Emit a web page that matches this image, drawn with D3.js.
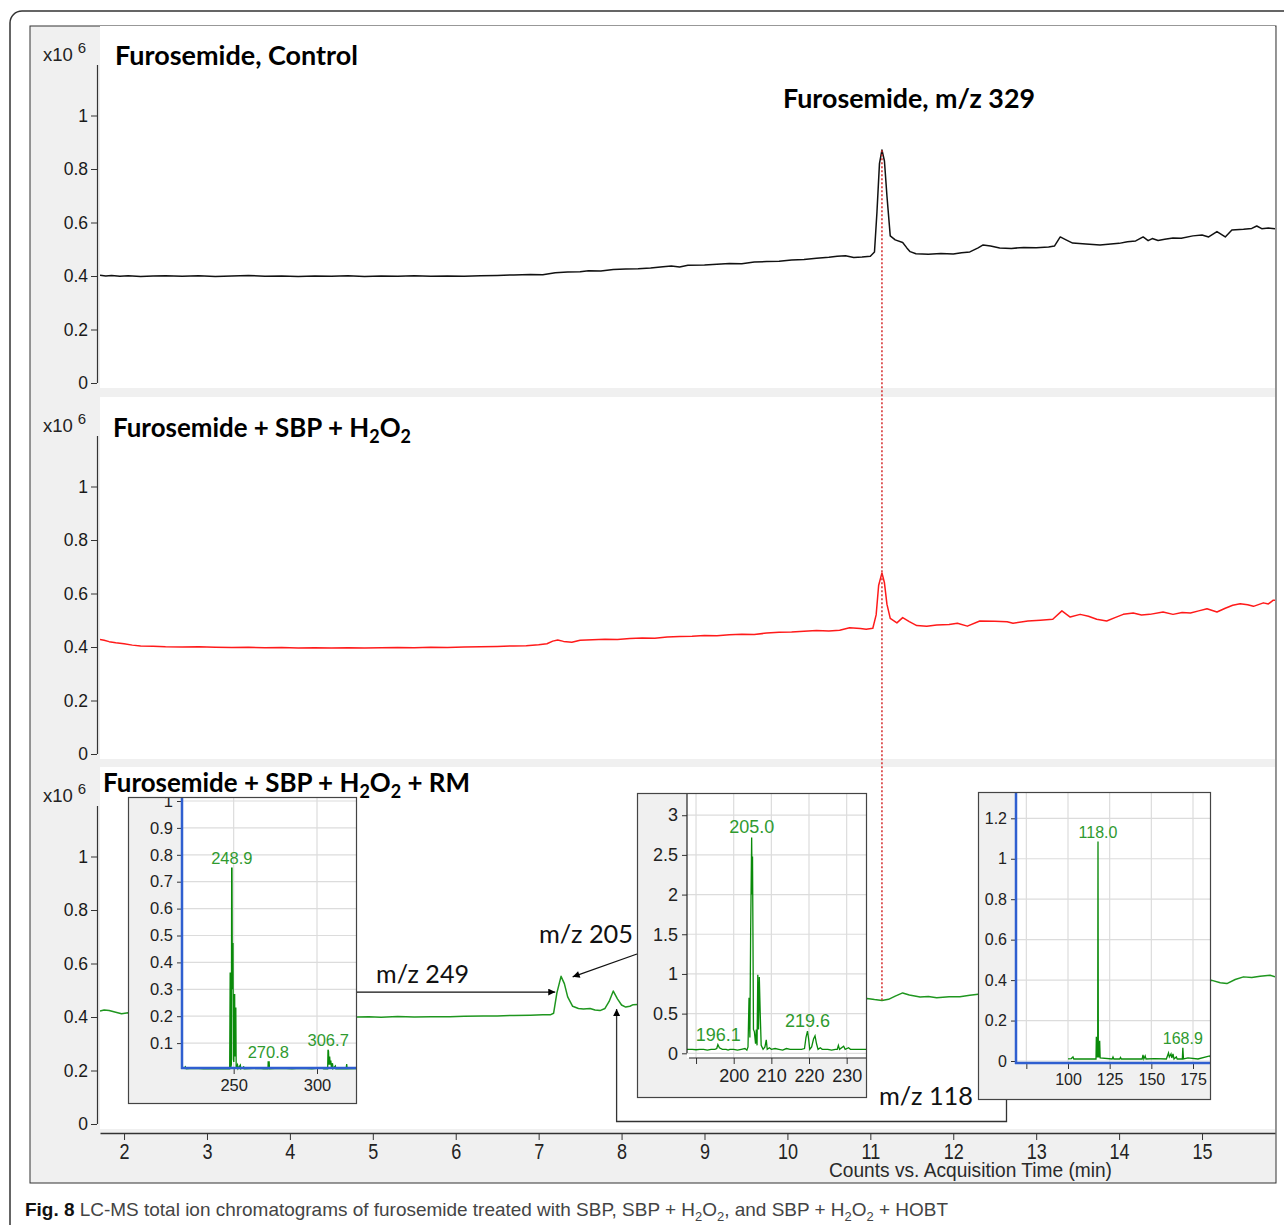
<!DOCTYPE html>
<html>
<head>
<meta charset="utf-8">
<script src="https://cdnjs.cloudflare.com/ajax/libs/d3/7.8.5/d3.min.js"></script>
<style>
  body { margin: 0; background: #fff; }
  svg text { font-family: "Liberation Sans", Arial, sans-serif; }
  .title { font-family: Lato, "Open Sans", sans-serif; font-weight: bold; fill: #000; }
  .note { font-family: Lato, "Open Sans", sans-serif; fill: #111; }
</style>
</head>
<body>
<svg width="1284" height="1225"></svg>
<script>

// ---- data ----
var timeTicks = [2, 3, 4, 5, 6, 7, 8, 9, 10, 11, 12, 13, 14, 15];
var countTicks = [0, 0.2, 0.4, 0.6, 0.8, 1];

// [time (min), counts x10^6]
var controlTrace = [[1.71,0.403],[1.78,0.400],[1.85,0.402],[1.95,0.399],[2.05,0.401],[2.2,0.398],[2.35,0.400],[2.5,0.401],[2.7,0.399],[2.9,0.401],[3.1,0.398],[3.3,0.400],[3.5,0.402],[3.7,0.399],[3.9,0.400],[4.1,0.398],[4.3,0.400],[4.5,0.399],[4.7,0.401],[4.9,0.398],[5.1,0.400],[5.3,0.399],[5.5,0.401],[5.7,0.399],[5.9,0.400],[6.1,0.399],[6.3,0.401],[6.5,0.402],[6.7,0.404],[6.9,0.406],[7.05,0.405],[7.2,0.412],[7.35,0.415],[7.5,0.416],[7.6,0.420],[7.75,0.419],[7.9,0.424],[8.05,0.426],[8.2,0.427],[8.35,0.430],[8.5,0.435],[8.6,0.437],[8.7,0.434],[8.8,0.440],[9.0,0.441],[9.15,0.444],[9.3,0.447],[9.45,0.446],[9.6,0.452],[9.75,0.454],[9.9,0.455],[10.05,0.460],[10.2,0.462],[10.35,0.466],[10.5,0.470],[10.6,0.474],[10.7,0.476],[10.8,0.469],[10.9,0.471],[11.0,0.474],[11.05,0.49],[11.08,0.64],[11.11,0.82],[11.14,0.871],[11.17,0.83],[11.2,0.70],[11.24,0.55],[11.3,0.535],[11.39,0.525],[11.44,0.505],[11.48,0.491],[11.55,0.483],[11.7,0.481],[11.85,0.484],[12.0,0.482],[12.1,0.487],[12.2,0.490],[12.3,0.505],[12.36,0.516],[12.45,0.512],[12.56,0.505],[12.7,0.503],[12.85,0.507],[13.0,0.506],[13.15,0.508],[13.22,0.512],[13.29,0.546],[13.36,0.535],[13.44,0.523],[13.6,0.520],[13.77,0.516],[13.9,0.520],[14.0,0.522],[14.1,0.528],[14.2,0.531],[14.29,0.546],[14.35,0.532],[14.4,0.540],[14.47,0.533],[14.55,0.537],[14.65,0.542],[14.75,0.541],[14.89,0.550],[15.0,0.553],[15.08,0.546],[15.18,0.566],[15.28,0.546],[15.36,0.572],[15.5,0.575],[15.6,0.578],[15.66,0.587],[15.72,0.577],[15.8,0.579],[15.88,0.577]];

var sbpTrace = [[1.71,0.428],[1.76,0.425],[1.82,0.420],[1.9,0.416],[2.0,0.412],[2.1,0.407],[2.2,0.404],[2.35,0.403],[2.5,0.401],[2.7,0.400],[2.9,0.401],[3.1,0.399],[3.3,0.398],[3.5,0.399],[3.7,0.397],[3.9,0.398],[4.1,0.396],[4.3,0.397],[4.5,0.396],[4.7,0.397],[4.9,0.396],[5.1,0.397],[5.3,0.398],[5.5,0.397],[5.7,0.399],[5.9,0.398],[6.1,0.400],[6.3,0.401],[6.5,0.402],[6.7,0.404],[6.85,0.405],[7.0,0.408],[7.1,0.412],[7.17,0.422],[7.23,0.426],[7.3,0.421],[7.4,0.418],[7.5,0.425],[7.65,0.427],[7.8,0.429],[7.95,0.428],[8.1,0.432],[8.25,0.434],[8.4,0.433],[8.55,0.437],[8.7,0.439],[8.85,0.440],[9.0,0.443],[9.15,0.442],[9.3,0.446],[9.45,0.448],[9.6,0.447],[9.75,0.452],[9.9,0.455],[10.05,0.456],[10.2,0.459],[10.35,0.462],[10.5,0.460],[10.63,0.463],[10.75,0.472],[10.88,0.469],[10.95,0.466],[11.03,0.470],[11.07,0.52],[11.1,0.63],[11.14,0.677],[11.17,0.64],[11.2,0.56],[11.24,0.507],[11.32,0.490],[11.39,0.510],[11.47,0.495],[11.56,0.480],[11.68,0.478],[11.8,0.482],[11.95,0.484],[12.05,0.489],[12.17,0.478],[12.32,0.497],[12.5,0.496],[12.65,0.494],[12.72,0.489],[12.9,0.497],[13.05,0.500],[13.2,0.504],[13.31,0.535],[13.41,0.512],[13.53,0.522],[13.63,0.515],[13.73,0.504],[13.85,0.497],[13.95,0.510],[14.05,0.522],[14.17,0.527],[14.27,0.520],[14.37,0.522],[14.53,0.531],[14.65,0.522],[14.76,0.529],[14.86,0.527],[14.96,0.535],[15.06,0.543],[15.18,0.531],[15.28,0.545],[15.37,0.556],[15.46,0.562],[15.55,0.558],[15.62,0.552],[15.74,0.565],[15.8,0.561],[15.86,0.575],[15.88,0.575]];

var rmTrace = [[1.71,0.422],[1.76,0.426],[1.82,0.424],[1.9,0.418],[1.97,0.412],[2.05,0.416],[2.2,0.414],[2.6,0.410],[3.2,0.406],[3.8,0.404],[4.4,0.402],[4.81,0.400],[4.95,0.401],[5.1,0.399],[5.3,0.402],[5.5,0.400],[5.7,0.401],[5.93,0.401],[6.1,0.403],[6.33,0.404],[6.5,0.404],[6.7,0.406],[6.9,0.407],[7.05,0.408],[7.14,0.408],[7.18,0.414],[7.22,0.49],[7.27,0.552],[7.31,0.525],[7.35,0.475],[7.41,0.440],[7.48,0.432],[7.54,0.430],[7.62,0.432],[7.68,0.426],[7.74,0.424],[7.8,0.432],[7.85,0.458],[7.9,0.497],[7.95,0.468],[8.0,0.445],[8.05,0.437],[8.1,0.440],[8.14,0.446],[8.5,0.452],[9.0,0.456],[9.5,0.458],[10.0,0.462],[10.5,0.466],[10.96,0.469],[11.05,0.465],[11.14,0.462],[11.22,0.466],[11.3,0.478],[11.39,0.490],[11.47,0.482],[11.6,0.475],[11.7,0.477],[11.8,0.472],[11.95,0.476],[12.08,0.476],[12.2,0.481],[12.3,0.485],[12.8,0.495],[13.5,0.505],[14.2,0.515],[14.8,0.525],[15.12,0.537],[15.22,0.528],[15.3,0.525],[15.4,0.540],[15.5,0.550],[15.6,0.548],[15.7,0.552],[15.82,0.556],[15.88,0.550]];

// mass spectra insets: [m/z, counts x10^4]
var spec249 = [[220,0.004],[221,0.012],[221.5,0.004],[226,0.006],[232,0.004],[237,0.005],[243,0.004],[247.6,0.004],[247.9,0.36],[248.1,0.36],[248.3,0.01],[248.6,0.02],[248.8,0.75],[249.0,0.75],[249.2,0.30],[249.4,0.47],[249.6,0.47],[249.8,0.04],[250.1,0.03],[250.4,0.28],[250.6,0.28],[250.8,0.05],[251.1,0.23],[251.3,0.23],[251.5,0.01],[252.3,0.02],[252.6,0.005],[254,0.018],[254.3,0.004],[256,0.012],[256.3,0.004],[260,0.005],[265,0.006],[268,0.004],[270.6,0.004],[270.7,0.03],[271.3,0.03],[271.5,0.004],[278,0.006],[285,0.004],[290,0.006],[297,0.004],[303,0.008],[304,0.004],[306.4,0.004],[306.6,0.075],[306.9,0.07],[307.2,0.02],[307.6,0.05],[307.9,0.02],[308.3,0.035],[308.6,0.01],[309.3,0.025],[309.6,0.005],[311,0.015],[311.3,0.004],[317.5,0.004],[317.8,0.022],[318.1,0.004],[324,0.005]];
var spec205 = [[187.6,0.05],[189,0.05],[190,0.045],[191,0.05],[192,0.05],[193,0.04],[194,0.05],[195,0.05],[195.5,0.06],[195.8,0.11],[196.2,0.07],[197,0.05],[198,0.05],[198.5,0.04],[199,0.05],[200,0.05],[201,0.04],[202,0.05],[203,0.06],[203.5,0.04],[203.8,0.08],[204.07,0.70],[204.3,0.20],[204.5,1.53],[204.77,2.72],[204.9,2.0],[205.0,2.48],[205.25,0.30],[205.5,0.27],[205.8,0.12],[206.0,0.30],[206.2,0.10],[206.4,0.99],[206.6,0.30],[206.8,0.96],[207.06,0.48],[207.3,0.10],[207.8,0.05],[208.3,0.08],[208.65,0.17],[208.9,0.05],[209.5,0.07],[210,0.05],[211,0.06],[212,0.05],[213,0.04],[214,0.06],[215,0.05],[216,0.05],[217,0.05],[218,0.05],[218.8,0.06],[219.2,0.20],[219.6,0.28],[219.9,0.18],[220.2,0.05],[220.7,0.08],[221.2,0.18],[221.6,0.22],[222,0.12],[222.4,0.05],[223,0.07],[223.5,0.05],[224,0.05],[225,0.05],[226,0.04],[227,0.05],[227.5,0.05],[227.8,0.10],[228.1,0.05],[229.2,0.09],[229.6,0.05],[230.5,0.07],[231,0.05],[232,0.05],[233,0.05],[235.4,0.05]];
var spec118 = [[100,0.01],[102,0.012],[103,0.02],[103.5,0.01],[110,0.01],[116.8,0.01],[117.0,0.12],[117.3,0.02],[117.8,0.02],[118.0,1.085],[118.2,0.02],[118.8,0.02],[119.0,0.10],[119.3,0.015],[126.5,0.01],[127,0.02],[127.5,0.01],[131,0.01],[131.5,0.018],[132,0.01],[140,0.01],[144.5,0.01],[145,0.03],[145.5,0.01],[146.3,0.025],[146.8,0.01],[152,0.012],[159,0.01],[160.3,0.04],[160.8,0.02],[161.8,0.035],[162.3,0.015],[163,0.035],[163.6,0.01],[165,0.02],[165.5,0.01],[168.6,0.01],[168.9,0.065],[169.3,0.01],[172,0.015],[178,0.01],[185,0.025],[185.8,0.015]];

// peak labels: [m/z, height, text]
var peaks249 = [[248.9, 0.75, "248.9"], [270.8, 0.03, "270.8"], [306.7, 0.075, "306.7"]];
var peaks205 = [[204.8, 2.72, "205.0"], [195.9, 0.11, "196.1"], [219.6, 0.28, "219.6"]];
var peaks118 = [[118.0, 1.085, "118.0"], [168.9, 0.065, "168.9"]];

var ticks249X = [250, 300];
var ticks249Y = [0.1, 0.2, 0.3, 0.4, 0.5, 0.6, 0.7, 0.8, 0.9, 1];
var ticks205X = [190, 200, 210, 220, 230];
var ticks205Y = [0, 0.5, 1, 1.5, 2, 2.5, 3];
var ticks118X = [75, 100, 125, 150, 175];
var ticks118Y = [0, 0.2, 0.4, 0.6, 0.8, 1, 1.2];

var titleControl = [["Furosemide, Control", 0]];
var titleSbp = [["Furosemide + SBP + H", 0], ["2", 1], ["O", 0], ["2", 1]];
var titleRm = [["Furosemide + SBP + H", 0], ["2", 1], ["O", 0], ["2", 1], [" + RM", 0]];
var captionParts = [["Fig. 8", 2], [" LC-MS total ion chromatograms of furosemide treated with SBP, SBP + H", 0], ["2", 1], ["O", 0], ["2", 1], [", and SBP + H", 0], ["2", 1], ["O", 0], ["2", 1], [" + HOBT", 0]];

var peakTime = 11.14;

// ---- drawing ----
var svg = d3.select("svg"),
    width = +svg.attr("width"),
    height = +svg.attr("height");

var defs = svg.append("defs");
defs.append("marker")
    .attr("id", "arrow")
    .attr("viewBox", "0 0 10 10")
    .attr("refX", 10).attr("refY", 5)
    .attr("markerWidth", 9).attr("markerHeight", 7)
    .attr("markerUnits", "userSpaceOnUse")
    .attr("orient", "auto")
  .append("path")
    .attr("d", "M0,0L10,5L0,10z")
    .attr("fill", "#000");

// frames
svg.append("rect")
    .attr("x", 10).attr("y", 11).attr("width", 1300).attr("height", 1260).attr("rx", 12)
    .attr("fill", "#fff").attr("stroke", "#333").attr("stroke-width", 1.5);
svg.append("rect")
    .attr("x", 30).attr("y", 26).attr("width", 1246).attr("height", 1157)
    .attr("fill", "#f0f0f0").attr("stroke", "#333").attr("stroke-width", 1);

var plotLeft = 100, plotRight = 1275;
var x = d3.scaleLinear().domain([1.71, 15.88]).range([plotLeft, plotRight]);

// writes text pieces with subscripts into a text element
function writeParts(textSel, parts, subSize) {
  var wasSub = false;
  parts.forEach(function (p) {
    var t = textSel.append("tspan").text(p[0]);
    if (p[1] === 1) {
      t.attr("dy", subSize * 0.35).style("font-size", subSize + "px");
    } else if (p[1] === 2) {
      t.style("font-weight", "bold").attr("fill", "#111");
    }
    if (p[1] === 0 && wasSub) {
      t.attr("dy", -subSize * 0.35);
    }
    wasSub = (p[1] === 1);
  });
}

var panels = [
  {zero: 383, data: controlTrace, color: "#111", title: titleControl, tx: 115, tdy: -318, tw: 243},
  {zero: 754, data: sbpTrace, color: "#ff1a1a", title: titleSbp, tx: 113, tdy: -317, tw: 298},
  {zero: 1124, data: rmTrace, color: "#1f961f", title: titleRm, tx: 103, tdy: -332, tw: 367}
];

var yScales = [];

panels.forEach(function (p, i) {
  var y = d3.scaleLinear().domain([0, 1]).range([p.zero, p.zero - 267.5]);
  yScales.push(y);
  var g = svg.append("g").attr("class", "panel");

  g.append("rect")
      .attr("x", plotLeft).attr("y", p.zero - 357)
      .attr("width", plotRight - plotLeft).attr("height", 362)
      .attr("fill", "#fff");

  defs.append("clipPath").attr("id", "clip" + i)
    .append("rect")
      .attr("x", plotLeft).attr("y", p.zero - 357)
      .attr("width", plotRight - plotLeft).attr("height", 362);

  // y axis
  var ax = g.append("g")
      .attr("transform", "translate(97,0)")
      .call(d3.axisLeft(y).tickValues(countTicks).tickSize(6).tickPadding(3).tickFormat(String));
  ax.select(".domain").remove();
  ax.selectAll("line").attr("stroke", "#333");
  ax.selectAll("text").style("font-size", "17.5px").attr("fill", "#1a1a1a")
      .style("font-family", "'Liberation Sans', Arial, sans-serif");
  g.append("line")
      .attr("x1", 97.5).attr("x2", 97.5)
      .attr("y1", p.zero).attr("y2", p.zero - 318)
      .attr("stroke", "#333").attr("stroke-width", 1.2);

  // x10^6 label
  var mult = g.append("text")
      .attr("x", 43).attr("y", p.zero - 322)
      .style("font-size", "18.5px").attr("fill", "#222")
      .text("x10");
  mult.append("tspan").attr("dx", 5).attr("dy", -8).style("font-size", "15px").text("6");

  // trace
  g.append("path")
      .datum(p.data)
      .attr("clip-path", "url(#clip" + i + ")")
      .attr("fill", "none")
      .attr("stroke", p.color)
      .attr("stroke-width", 1.5)
      .attr("stroke-linejoin", "round")
      .attr("d", d3.line().x(function (d) { return x(d[0]); }).y(function (d) { return y(d[1]); }));

  // title
  var title = g.append("text")
      .attr("class", "title")
      .attr("x", p.tx).attr("y", p.zero + p.tdy)
      .style("font-size", "26px")
      .attr("textLength", p.tw)
      .attr("lengthAdjust", "spacingAndGlyphs");
  writeParts(title, p.title, 18);
});

// peak name in the top panel
svg.append("text")
    .attr("class", "title")
    .attr("x", 783).attr("y", 108)
    .style("font-size", "26px")
    .attr("textLength", 252).attr("lengthAdjust", "spacingAndGlyphs")
    .text("Furosemide, m/z 329");

// red dotted marker through the three panels
svg.append("line")
    .attr("x1", x(peakTime)).attr("x2", x(peakTime))
    .attr("y1", yScales[0](0.87)).attr("y2", yScales[2](0.455))
    .attr("stroke", "#d42a2a").attr("stroke-width", 1.5)
    .attr("stroke-dasharray", "2,2");

// ---- mass spectrum insets ----
var insets = [
  {spec: spec249, peaks: peaks249, box: [128, 797, 357, 1104], xr: [182, 357], xd: [219, 324],
   yd: [0, 1], yr: [1070, 801], xAxisY: 1068, xTicks: ticks249X, xLabels: ticks249X, yTicks: ticks249Y,
   axisColor: "#2f5fd0", axisW: 2.5, fs: 16.5, lfs: 16.5},
  {spec: spec205, peaks: peaks205, box: [637, 793, 867, 1098], xr: [687, 867], xd: [187.6, 235.4],
   yd: [0, 3.28], yr: [1053.3, 793], xAxisY: 1058, xTicks: ticks205X, xLabels: [200, 210, 220, 230], yTicks: ticks205Y,
   axisColor: "#222", axisW: 1.2, fs: 18, lfs: 18},
  {spec: spec118, peaks: peaks118, box: [978, 792, 1211, 1100], xr: [1016, 1211], xd: [68.8, 185.8],
   yd: [0, 1.2], yr: [1061, 818.3], xAxisY: 1063, xTicks: ticks118X, xLabels: [100, 125, 150, 175], yTicks: ticks118Y,
   axisColor: "#2f5fd0", axisW: 2.5, fs: 16, lfs: 16}
];

insets.forEach(function (s, i) {
  var b = s.box;
  var sx = d3.scaleLinear().domain(s.xd).range(s.xr);
  var sy = d3.scaleLinear().domain(s.yd).range(s.yr);

  defs.append("clipPath").attr("id", "iclip" + i)
    .append("rect").attr("x", b[0]).attr("y", b[1]).attr("width", b[2] - b[0]).attr("height", b[3] - b[1]);

  var g = svg.append("g").attr("clip-path", "url(#iclip" + i + ")");

  g.append("rect")
      .attr("x", b[0]).attr("y", b[1]).attr("width", b[2] - b[0]).attr("height", b[3] - b[1])
      .attr("fill", "#f0f0f0");
  g.append("rect")
      .attr("x", s.xr[0]).attr("y", b[1]).attr("width", s.xr[1] - s.xr[0]).attr("height", s.xAxisY - b[1])
      .attr("fill", "#fff");

  // grid
  g.selectAll(".vgrid").data(s.xTicks).enter().append("line")
      .attr("x1", sx).attr("x2", sx)
      .attr("y1", b[1]).attr("y2", s.xAxisY)
      .attr("stroke", "#dcdcdc").attr("stroke-width", 1.2);
  g.selectAll(".hgrid").data(s.yTicks).enter().append("line")
      .attr("x1", s.xr[0]).attr("x2", s.xr[1])
      .attr("y1", sy).attr("y2", sy)
      .attr("stroke", "#dcdcdc").attr("stroke-width", 1.2);

  // spectrum
  g.append("path")
      .datum(s.spec)
      .attr("fill", "none")
      .attr("stroke", "#0a8a0a")
      .attr("stroke-width", 1.3)
      .attr("d", d3.line().x(function (d) { return sx(d[0]); }).y(function (d) { return sy(d[1]); }));

  // axes
  var yax = g.append("g")
      .attr("transform", "translate(" + s.xr[0] + ",0)")
      .call(d3.axisLeft(sy).tickValues(s.yTicks).tickSize(5).tickPadding(4).tickFormat(String));
  yax.select(".domain").remove();
  yax.selectAll("line").attr("stroke", "#333");
  yax.selectAll("text").style("font-size", s.fs + "px").attr("fill", "#222")
      .style("font-family", "'Liberation Sans', Arial, sans-serif");

  var xax = g.append("g")
      .attr("transform", "translate(0," + s.xAxisY + ")")
      .call(d3.axisBottom(sx).tickValues(s.xTicks).tickSize(6).tickPadding(5)
        .tickFormat(function (d) { return s.xLabels.indexOf(d) >= 0 ? String(d) : ""; }));
  xax.select(".domain").remove();
  xax.selectAll("line").attr("stroke", "#333");
  xax.selectAll("text").style("font-size", s.fs + "px").attr("fill", "#222")
      .style("font-family", "'Liberation Sans', Arial, sans-serif");

  g.append("line")
      .attr("x1", s.xr[0]).attr("x2", s.xr[0])
      .attr("y1", b[1]).attr("y2", s.xAxisY + (s.axisW > 2 ? 1 : -5))
      .attr("stroke", s.axisColor).attr("stroke-width", s.axisW);
  g.append("line")
      .attr("x1", s.xr[0] - (s.axisW > 2 ? 1 : -2)).attr("x2", b[2])
      .attr("y1", s.xAxisY).attr("y2", s.xAxisY)
      .attr("stroke", s.axisColor).attr("stroke-width", s.axisW);

  // peak labels
  g.selectAll(".peak").data(s.peaks).enter().append("text")
      .attr("x", function (d) { return sx(d[0]); })
      .attr("y", function (d) { return sy(d[1]) - 4; })
      .attr("text-anchor", "middle")
      .style("font-size", s.lfs + "px")
      .attr("fill", "#2f9a2f")
      .text(function (d) { return d[2]; });

  svg.append("rect")
      .attr("x", b[0] + 0.5).attr("y", b[1] + 0.5).attr("width", b[2] - b[0] - 1).attr("height", b[3] - b[1] - 1)
      .attr("fill", "none").attr("stroke", "#444").attr("stroke-width", 1.2);
});

// ---- annotations ----
var y3 = yScales[2];
var ann = svg.append("g");

ann.append("line")
    .attr("x1", 357).attr("y1", y3(0.493))
    .attr("x2", x(7.20)).attr("y2", y3(0.493))
    .attr("stroke", "#111").attr("stroke-width", 1.3)
    .attr("marker-end", "url(#arrow)");
ann.append("text").attr("class", "note")
    .attr("x", 376).attr("y", 983)
    .style("font-size", "25px")
    .attr("textLength", 93).attr("lengthAdjust", "spacingAndGlyphs")
    .text("m/z 249");

ann.append("line")
    .attr("x1", 637).attr("y1", 954)
    .attr("x2", x(7.41)).attr("y2", y3(0.55))
    .attr("stroke", "#111").attr("stroke-width", 1.3)
    .attr("marker-end", "url(#arrow)");
ann.append("text").attr("class", "note")
    .attr("x", 539).attr("y", 943)
    .style("font-size", "25px")
    .attr("textLength", 94).attr("lengthAdjust", "spacingAndGlyphs")
    .text("m/z 205");

ann.append("path")
    .attr("d", "M1006.5,1100V1121.5H" + x(7.94) + "V" + y3(0.43))
    .attr("fill", "none")
    .attr("stroke", "#333").attr("stroke-width", 1.3)
    .attr("marker-end", "url(#arrow)");
ann.append("text").attr("class", "note")
    .attr("x", 879).attr("y", 1105)
    .style("font-size", "25px")
    .attr("textLength", 94).attr("lengthAdjust", "spacingAndGlyphs")
    .text("m/z 118");

// ---- time axis ----
var xAxisG = svg.append("g")
    .attr("transform", "translate(0,1133)")
    .call(d3.axisBottom(x).tickValues(timeTicks).tickSize(7).tickSizeOuter(0).tickPadding(3).tickFormat(String));
xAxisG.select(".domain").attr("stroke", "#333").attr("stroke-width", 1.3);
xAxisG.selectAll("line").attr("stroke", "#333");
xAxisG.selectAll("text")
    .style("font-size", "22px")
    .style("font-family", "'Liberation Sans Narrow', 'Liberation Sans', Arial, sans-serif")
    .attr("fill", "#222")
    .attr("transform", "scale(0.82,1)");

svg.append("text")
    .attr("x", 829).attr("y", 1177)
    .style("font-size", "21px")
    .attr("fill", "#2a2a2a")
    .attr("textLength", 283).attr("lengthAdjust", "spacingAndGlyphs")
    .text("Counts vs. Acquisition Time (min)");

// ---- caption ----
var caption = svg.append("text")
    .attr("x", 25).attr("y", 1216)
    .style("font-size", "19px")
    .attr("fill", "#444")
    .attr("textLength", 923).attr("lengthAdjust", "spacingAndGlyphs");
writeParts(caption, captionParts, 13);

</script>
</body>
</html>
